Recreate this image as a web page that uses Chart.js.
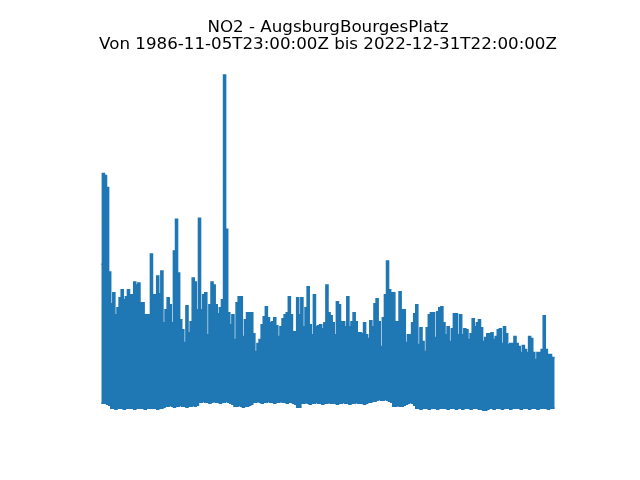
<!DOCTYPE html>
<html>
<head>
<meta charset="utf-8">
<script src="https://cdn.jsdelivr.net/npm/chart.js@4/dist/chart.umd.min.js"></script>
<style>
  html, body { margin: 0; padding: 0; background: #ffffff; }
  #wrap { width: 640px; height: 480px; }
</style>
</head>
<body>
<div id="wrap"><canvas id="c" width="640" height="480"></canvas></div>
<script>
// Title texts
const titleLines = ["NO2 - AugsburgBourgesPlatz", "Von 1986-11-05T23:00:00Z bis 2022-12-31T22:00:00Z"];

// Series start (decimal year) and period length (two months)
const startYear = 1986.85;
const periodYears = 1 / 6;

// Highest NO2 value in each two-month period
const maxVals = [
  140,231,229,217,132,100,111,89,96,106,
  114,104,107,114,109,109,122,119,121,101,
  101,89,89,89,150,109,109,128,110,133,
  81,94,106,99,81,153,185,131,84,74,
  61,98,71,82,126,122,94,186,94,109,
  111,69,99,122,119,99,90,96,104,330,
  175,91,79,89,64,101,107,107,67,84,
  91,91,91,70,52,60,64,79,87,97,
  86,81,82,86,78,67,77,85,89,91,
  107,89,72,72,106,89,106,77,96,117,
  79,69,109,77,78,79,75,81,119,91,
  88,81,69,102,99,82,82,77,107,77,
  82,91,82,71,71,70,81,69,65,83,
  77,100,105,82,57,86,109,143,114,111,
  111,82,82,112,94,94,61,69,69,81,
  90,99,59,76,62,52,76,89,91,91,
  66,92,96,97,81,69,77,62,75,90,
  90,69,89,69,75,74,64,70,85,77,
  81,84,76,62,66,70,70,71,64,67,
  74,75,60,77,70,59,60,60,67,60,
  57,51,58,54,51,67,65,51,44,51,
  51,54,88,54,49,49,46,46
];

// Lowest NO2 value in each two-month period
const minVals = [
  0,0,0,-1,-2,
  -5,-5,-6,-5,-5,-5,-6,-5,-5,-5,-5,-6,-5,-5,-5,-5,-6,-5,-5,-5,-5,-5,-6,-5,-5,-4,
  -3,-3,-2,-3,-4,-3,-3,-2,-3,-3,-4,-3,-3,-2,-3,-2,
  1,1,2,1,1,0,1,2,1,1,0,1,1,2,1,0,-1,
  -3,-3,-2,-3,-4,-3,-3,-2,-1,
  1,1,2,1,0,1,1,2,1,1,0,1,1,2,1,1,0,1,1,0,-1,
  -4,-4,
  0,0,1,0,-1,0,0,1,0,0,-1,0,0,1,0,0,0,-1,0,0,1,0,0,-1,0,0,1,0,0,0,-1,0,1,1,2,2,
  3,4,3,3,4,3,2,1,
  -3,-3,-2,-3,-3,-2,-1,0,1,0,-2,
  -5,-5,-6,-5,-5,-5,-6,-5,-5,-5,-6,-5,-5,-5,-5,-6,-5,-5,-5,-6,-5,-5,-6,-5,-5,
  -5,-6,-5,-5,-5,-6,-6,-7,-7,-6,-5,-5,-6,-5,-5,-5,-6,-5,-5,-5,-6,-5,-5,-5,-5,
  -6,-5,-5,-5,-6,-5,-5,-5,-6,-5,-5,-5,-5,-6,-5,-5,-5
];

const n = Math.min(maxVals.length, minVals.length);
const upper = [], lower = [];
for (let i = 0; i < n; i++) {
  const t = startYear + i * periodYears;
  upper.push({ x: t, y: maxVals[i] });
  lower.push({ x: t, y: minVals[i] });
}

const tFirst = startYear;
const tLast = startYear + (n - 1) * periodYears;
const xPad = (tLast - tFirst) * 0.047;
const yLo = Math.min(...minVals), yHi = Math.max(...maxVals);
const yPad = (yHi - yLo) * 0.05;

const blue = '#1f77b4';

new Chart(document.getElementById('c'), {
  type: 'line',
  data: {
    datasets: [
      {
        data: upper,
        borderColor: blue,
        backgroundColor: blue,
        borderWidth: 1.5,
        pointRadius: 0,
        stepped: 'middle',
        fill: '+1'
      },
      {
        data: lower,
        borderColor: blue,
        backgroundColor: blue,
        borderWidth: 1.5,
        pointRadius: 0,
        stepped: 'middle',
        fill: false
      }
    ]
  },
  options: {
    responsive: false,
    animation: false,
    parsing: false,
    layout: { padding: { left: 80, right: 64, top: 0, bottom: 53 } },
    plugins: {
      legend: { display: false },
      tooltip: { enabled: false },
      title: {
        display: true,
        text: titleLines,
        color: '#000000',
        font: { family: 'DejaVu Sans', size: 16.7, weight: 'normal', lineHeight: 1.06 },
        padding: { top: 18.5, bottom: 4.3 }
      }
    },
    scales: {
      x: { type: 'linear', display: false, min: tFirst - xPad, max: tLast + xPad },
      y: { type: 'linear', display: false, min: yLo - yPad, max: yHi + yPad }
    }
  }
});
</script>
</body>
</html>
